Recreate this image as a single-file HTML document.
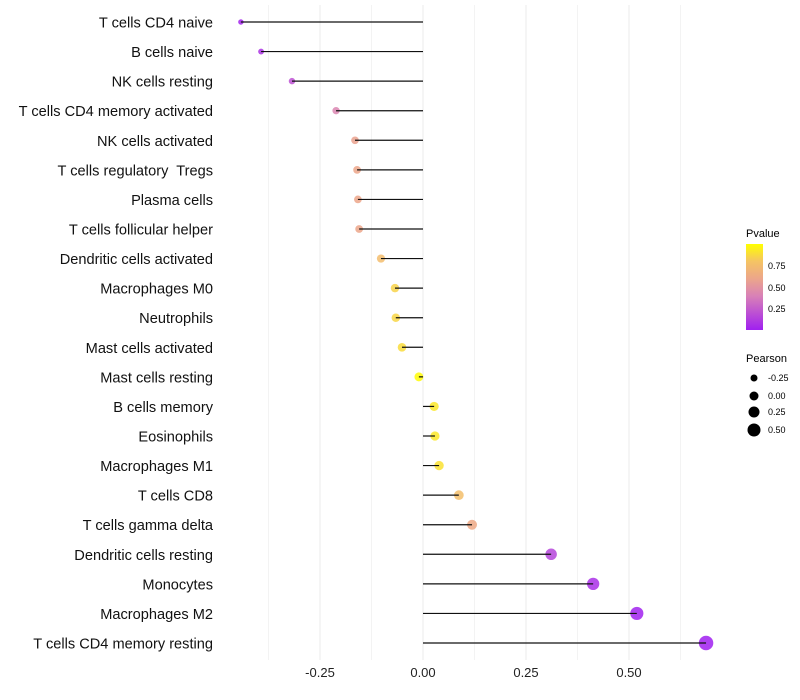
<!DOCTYPE html>
<html><head><meta charset="utf-8"><style>
body{margin:0;background:#fff;font-family:"Liberation Sans",sans-serif}
svg{display:block}
</style></head><body>
<svg id="chart" width="800" height="700">
<defs><linearGradient id="pg" x1="0" y1="1" x2="0" y2="0">
<stop offset="0" stop-color="#a020f0"/><stop offset="0.4" stop-color="#d982b6"/><stop offset="0.6" stop-color="#eca68a"/><stop offset="0.8" stop-color="#f5c463"/><stop offset="1" stop-color="#ffff00"/></linearGradient></defs>
<g id="grid"></g><g id="points"></g><g id="stems"></g><g id="labels"></g>
<g>
<text x="746" y="237" font-size="11" fill="#000">Pvalue</text>
<rect x="746" y="244" width="17" height="86" fill="url(#pg)"/>
<text x="768" y="269" font-size="9">0.75</text>
<text x="768" y="291" font-size="9">0.50</text>
<text x="768" y="312" font-size="9">0.25</text>
</g>
<g>
<text x="746" y="362" font-size="11">Pearson</text>
<circle cx="754" cy="378" r="3.5"/><text x="768" y="381" font-size="9">-0.25</text>
<circle cx="754" cy="396" r="4.5"/><text x="768" y="399" font-size="9">0.00</text>
<circle cx="754" cy="412" r="5.5"/><text x="768" y="415" font-size="9">0.25</text>
<circle cx="754" cy="430" r="6.5"/><text x="768" y="433" font-size="9">0.50</text>
</g>
</svg>
<script>
const categories=["T cells CD4 naive","B cells naive","NK cells resting","T cells CD4 memory activated","NK cells activated","T cells regulatory  Tregs","Plasma cells","T cells follicular helper","Dendritic cells activated","Macrophages M0","Neutrophils","Mast cells activated","Mast cells resting","B cells memory","Eosinophils","Macrophages M1","T cells CD8","T cells gamma delta","Dendritic cells resting","Monocytes","Macrophages M2","T cells CD4 memory resting"];
const pearson=[-0.442,-0.393,-0.318,-0.211,-0.165,-0.160,-0.158,-0.155,-0.102,-0.068,-0.066,-0.051,-0.010,0.027,0.029,0.039,0.087,0.119,0.311,0.413,0.519,0.687];
const pvalues=[0.02,0.08,0.2,0.42,0.58,0.6,0.6,0.6,0.75,0.85,0.86,0.88,0.99,0.92,0.92,0.9,0.76,0.62,0.15,0.06,0.01,0.001];
const ticks=[-0.25,0,0.25,0.5];
const tickLabels=["-0.25","0.00","0.25","0.50"];
const NS="http://www.w3.org/2000/svg";
const x=v=>423+v*412;
const y=i=>22+i*(621/(categories.length-1));
const r=v=>4.5+4*v;
const stops=[[0,[160,32,240]],[0.4,[217,130,182]],[0.6,[236,166,138]],[0.8,[245,196,99]],[1,[255,255,0]]];
function col(p){for(let k=1;k<stops.length;k++){if(p<=stops[k][0]){const a=stops[k-1],b=stops[k],t=(p-a[0])/(b[0]-a[0]);
return 'rgb('+a[1].map((c,j)=>Math.round(c+(b[1][j]-c)*t)).join(',')+')';}}return 'rgb(255,255,0)';}
function mk(t,a,parent){const e=document.createElementNS(NS,t);for(const k in a)e.setAttribute(k,a[k]);parent.appendChild(e);return e;}
const grid=document.getElementById('grid'),points=document.getElementById('points'),stems=document.getElementById('stems'),labels=document.getElementById('labels');
for(let v=-0.375;v<=0.63;v+=0.125){const major=Math.abs((v*4)-Math.round(v*4))<1e-6;
const g=mk('line',{x1:x(v),x2:x(v),y1:5,y2:660,stroke:major?'#ebebeb':'#f3f3f3','stroke-width':1},grid);

}
ticks.forEach((t,i)=>{const e=mk('text',{x:x(t),y:677,'text-anchor':'middle','font-size':13,fill:'#222'},labels);e.textContent=tickLabels[i];

});
categories.forEach((c,i)=>{
const t=mk('text',{x:213,y:y(i)+5.5,'text-anchor':'end','font-size':14.6,fill:'#111',style:'white-space:pre'},labels);t.textContent=c;


const d=mk('circle',{cx:x(pearson[i]),cy:y(i),r:r(pearson[i]),fill:col(pvalues[i]),'fill-opacity':0.85},points);


const l=mk('line',{x1:x(0),x2:x(pearson[i]),y1:y(i),y2:y(i),stroke:'#111','stroke-width':1.2},stems);


});
</script>
</body></html>
